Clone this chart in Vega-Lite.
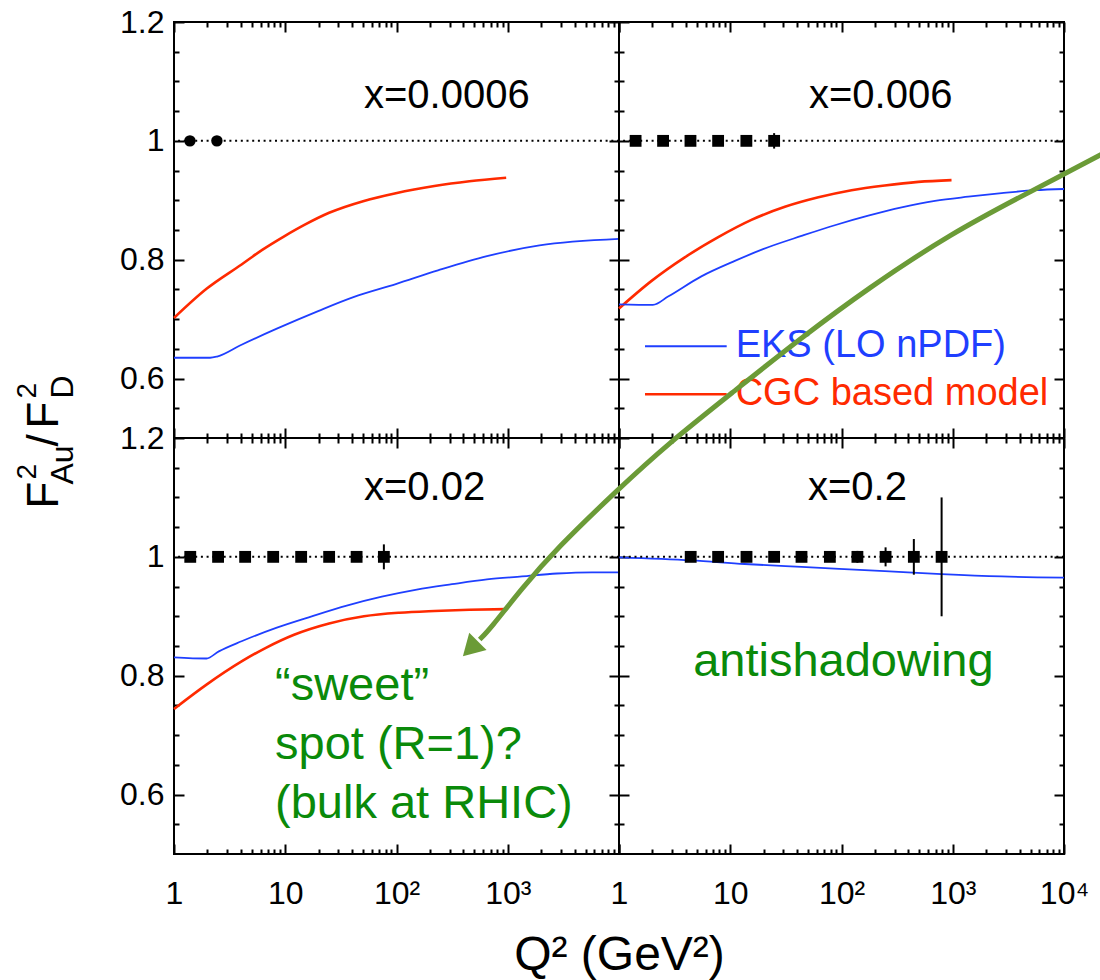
{
  "$schema": "https://vega.github.io/schema/vega-lite/v6.json",
  "padding": {"left": 13, "top": 5, "right": 0, "bottom": 0},
  "background": "white",
  "config": {
    "font": "Liberation Sans",
    "view": {"stroke": "black", "strokeWidth": 2},
    "axis": {"domain": false, "grid": false, "ticks": true, "tickColor": "black", "tickWidth": 2, "labelColor": "black", "labelFont": "Liberation Sans", "labelFontSize": 32, "labelFlush": false, "labelOverlap": false, "titleFont": "Liberation Sans", "titleFontWeight": "normal", "titleColor": "black"},
    "text": {"font": "Liberation Sans"}
  },
  "datasets": {
    "curves": [
      {"panel": "a", "model": "CGC", "q": 1, "r": 0.702}, {"panel": "a", "model": "CGC", "q": 1.96, "r": 0.751}, {"panel": "a", "model": "CGC", "q": 4.05, "r": 0.792}, {"panel": "a", "model": "CGC", "q": 6.26, "r": 0.817}, {"panel": "a", "model": "CGC", "q": 9.7, "r": 0.839}, {"panel": "a", "model": "CGC", "q": 15, "r": 0.859}, {"panel": "a", "model": "CGC", "q": 24.8, "r": 0.879}, {"panel": "a", "model": "CGC", "q": 51, "r": 0.899}, {"panel": "a", "model": "CGC", "q": 98.6, "r": 0.912}, {"panel": "a", "model": "CGC", "q": 219, "r": 0.924}, {"panel": "a", "model": "CGC", "q": 452, "r": 0.932}, {"panel": "a", "model": "CGC", "q": 968, "r": 0.938},
      {"panel": "a", "model": "EKS", "q": 1, "r": 0.635}, {"panel": "a", "model": "EKS", "q": 2.11, "r": 0.635}, {"panel": "a", "model": "EKS", "q": 2.44, "r": 0.637}, {"panel": "a", "model": "EKS", "q": 4.05, "r": 0.657}, {"panel": "a", "model": "EKS", "q": 8.4, "r": 0.684}, {"panel": "a", "model": "EKS", "q": 20, "r": 0.714}, {"panel": "a", "model": "EKS", "q": 41, "r": 0.737}, {"panel": "a", "model": "EKS", "q": 98.6, "r": 0.759}, {"panel": "a", "model": "EKS", "q": 236, "r": 0.782}, {"panel": "a", "model": "EKS", "q": 650, "r": 0.806}, {"panel": "a", "model": "EKS", "q": 1928, "r": 0.824}, {"panel": "a", "model": "EKS", "q": 10000, "r": 0.835},
      {"panel": "b", "model": "CGC", "q": 1, "r": 0.718}, {"panel": "b", "model": "CGC", "q": 1.95, "r": 0.764}, {"panel": "b", "model": "CGC", "q": 3.9, "r": 0.804}, {"panel": "b", "model": "CGC", "q": 7.8, "r": 0.838}, {"panel": "b", "model": "CGC", "q": 15.5, "r": 0.867}, {"panel": "b", "model": "CGC", "q": 31, "r": 0.889}, {"panel": "b", "model": "CGC", "q": 62, "r": 0.905}, {"panel": "b", "model": "CGC", "q": 123, "r": 0.917}, {"panel": "b", "model": "CGC", "q": 245, "r": 0.925}, {"panel": "b", "model": "CGC", "q": 490, "r": 0.931}, {"panel": "b", "model": "CGC", "q": 975, "r": 0.934},
      {"panel": "b", "model": "EKS", "q": 1, "r": 0.725}, {"panel": "b", "model": "EKS", "q": 2.02, "r": 0.724}, {"panel": "b", "model": "EKS", "q": 2.76, "r": 0.738}, {"panel": "b", "model": "EKS", "q": 5.5, "r": 0.772}, {"panel": "b", "model": "EKS", "q": 11, "r": 0.798}, {"panel": "b", "model": "EKS", "q": 21.9, "r": 0.821}, {"panel": "b", "model": "EKS", "q": 43.7, "r": 0.84}, {"panel": "b", "model": "EKS", "q": 87, "r": 0.858}, {"panel": "b", "model": "EKS", "q": 174, "r": 0.874}, {"panel": "b", "model": "EKS", "q": 347, "r": 0.888}, {"panel": "b", "model": "EKS", "q": 692, "r": 0.899}, {"panel": "b", "model": "EKS", "q": 1380, "r": 0.906}, {"panel": "b", "model": "EKS", "q": 2750, "r": 0.912}, {"panel": "b", "model": "EKS", "q": 5500, "r": 0.917}, {"panel": "b", "model": "EKS", "q": 10000, "r": 0.919},
      {"panel": "c", "model": "EKS", "q": 1, "r": 0.831}, {"panel": "c", "model": "EKS", "q": 1.96, "r": 0.829}, {"panel": "c", "model": "EKS", "q": 2.53, "r": 0.841}, {"panel": "c", "model": "EKS", "q": 4.05, "r": 0.858}, {"panel": "c", "model": "EKS", "q": 8.4, "r": 0.881}, {"panel": "c", "model": "EKS", "q": 17.3, "r": 0.9}, {"panel": "c", "model": "EKS", "q": 35.7, "r": 0.918}, {"panel": "c", "model": "EKS", "q": 73.8, "r": 0.933}, {"panel": "c", "model": "EKS", "q": 152, "r": 0.945}, {"panel": "c", "model": "EKS", "q": 315, "r": 0.954}, {"panel": "c", "model": "EKS", "q": 650, "r": 0.962}, {"panel": "c", "model": "EKS", "q": 1342, "r": 0.967}, {"panel": "c", "model": "EKS", "q": 2770, "r": 0.972}, {"panel": "c", "model": "EKS", "q": 5720, "r": 0.974}, {"panel": "c", "model": "EKS", "q": 10000, "r": 0.974},
      {"panel": "c", "model": "CGC", "q": 1, "r": 0.744}, {"panel": "c", "model": "CGC", "q": 1.96, "r": 0.785}, {"panel": "c", "model": "CGC", "q": 4.05, "r": 0.824}, {"panel": "c", "model": "CGC", "q": 6.7, "r": 0.847}, {"panel": "c", "model": "CGC", "q": 12, "r": 0.869}, {"panel": "c", "model": "CGC", "q": 24.8, "r": 0.888}, {"panel": "c", "model": "CGC", "q": 51, "r": 0.9}, {"panel": "c", "model": "CGC", "q": 106, "r": 0.906}, {"panel": "c", "model": "CGC", "q": 219, "r": 0.909}, {"panel": "c", "model": "CGC", "q": 452, "r": 0.911}, {"panel": "c", "model": "CGC", "q": 968, "r": 0.912},
      {"panel": "d", "model": "EKS", "q": 1, "r": 0.999}, {"panel": "d", "model": "EKS", "q": 4.47, "r": 0.994}, {"panel": "d", "model": "EKS", "q": 13.5, "r": 0.988}, {"panel": "d", "model": "EKS", "q": 43.7, "r": 0.983}, {"panel": "d", "model": "EKS", "q": 245, "r": 0.976}, {"panel": "d", "model": "EKS", "q": 794, "r": 0.971}, {"panel": "d", "model": "EKS", "q": 2750, "r": 0.967}, {"panel": "d", "model": "EKS", "q": 10000, "r": 0.965}
    ],
    "points": [
      {"panel": "a", "q": 1.39, "r": 1}, {"panel": "a", "q": 2.43, "r": 1},
      {"panel": "b", "q": 1.41, "r": 1}, {"panel": "b", "q": 2.49, "r": 1}, {"panel": "b", "q": 4.39, "r": 1}, {"panel": "b", "q": 7.78, "r": 1}, {"panel": "b", "q": 13.96, "r": 1}, {"panel": "b", "q": 24.8, "r": 1, "lo": 0.987, "hi": 1.013},
      {"panel": "c", "q": 1.4, "r": 1}, {"panel": "c", "q": 2.49, "r": 1}, {"panel": "c", "q": 4.36, "r": 1}, {"panel": "c", "q": 7.79, "r": 1}, {"panel": "c", "q": 13.9, "r": 1}, {"panel": "c", "q": 24.8, "r": 1}, {"panel": "c", "q": 43.8, "r": 1}, {"panel": "c", "q": 77, "r": 1, "lo": 0.979, "hi": 1.021},
      {"panel": "d", "q": 4.41, "r": 1}, {"panel": "d", "q": 7.78, "r": 1}, {"panel": "d", "q": 14, "r": 1}, {"panel": "d", "q": 24.8, "r": 1}, {"panel": "d", "q": 43.7, "r": 1}, {"panel": "d", "q": 78.6, "r": 1}, {"panel": "d", "q": 139, "r": 1, "lo": 0.99, "hi": 1.01}, {"panel": "d", "q": 249, "r": 1, "lo": 0.984, "hi": 1.016}, {"panel": "d", "q": 447, "r": 1, "lo": 0.97, "hi": 1.03}, {"panel": "d", "q": 794, "r": 1, "lo": 0.9, "hi": 1.1}
    ],
    "arrow": [
      {"q": 26300, "v": 1.6854}, {"q": 9935, "v": 1.6439}, {"q": 5020, "v": 1.6148}, {"q": 959, "v": 1.5441}, {"q": 172, "v": 1.4516}, {"q": 43, "v": 1.368}, {"q": 10.74, "v": 1.2782}, {"q": 2.74, "v": 1.19}, {"q": 0.973, "v": 1.113}, {"q": 0.2754, "v": 1.0141}, {"q": 0.1335, "v": 0.9468}, {"q": 0.0688, "v": 0.8778}, {"q": 0.056, "v": 0.861}
    ]
  },
  "spacing": 0,
  "bounds": "flush",
  "columns": 2,
  "concat": [
        {
          "width": 445, "height": 416,
          "resolve": {"axis": {"x": "independent", "y": "independent"}},
          "layer": [
            {"data": {"name": "curves"}, "transform": [{"filter": "datum.panel == 'a' && datum.model == 'CGC'"}], "mark": {"type": "line", "color": "#ff2a00", "strokeWidth": 2.6, "interpolate": "monotone"},
             "encoding": {"x": {"field": "q", "type": "quantitative", "scale": {"type": "log", "domain": [1, 10000], "nice": false}, "axis": {"orient": "bottom", "values": [1, 10, 100, 1000, 10000], "offset": -10, "tickSize": 10, "labels": false, "title": null}},
                          "y": {"field": "r", "type": "quantitative", "scale": {"domain": [0.5, 1.2], "nice": false, "zero": false}, "axis": {"orient": "left", "values": [0.6, 0.8, 1, 1.2], "offset": -10, "tickSize": 10, "labelPadding": 10, "format": "~g", "title": null}}}},
            {"data": {"name": "curves"}, "transform": [{"filter": "datum.panel == 'a' && datum.model == 'EKS'"}], "mark": {"type": "line", "color": "#1f3fff", "strokeWidth": 1.8, "interpolate": "monotone"},
             "encoding": {"x": {"field": "q", "type": "quantitative", "scale": {"type": "log", "domain": [1, 10000], "nice": false}, "axis": {"orient": "top", "values": [1, 10, 100, 1000, 10000], "offset": -10, "tickSize": 10, "labels": false, "title": null}},
                          "y": {"field": "r", "type": "quantitative", "scale": {"domain": [0.5, 1.2], "nice": false, "zero": false}, "axis": {"orient": "right", "values": [0.6, 0.8, 1, 1.2], "offset": -10, "tickSize": 10, "labels": false, "title": null}}}},
            {"data": {"name": "points"}, "transform": [{"filter": "datum.panel == 'a'"}], "mark": {"type": "circle", "size": 130, "color": "black", "opacity": 1},
             "encoding": {"x": {"field": "q", "type": "quantitative", "scale": {"type": "log", "domain": [1, 10000], "nice": false}, "axis": {"orient": "bottom", "values": [2, 3, 4, 5, 6, 7, 8, 9, 20, 30, 40, 50, 60, 70, 80, 90, 200, 300, 400, 500, 600, 700, 800, 900, 2000, 3000, 4000, 5000, 6000, 7000, 8000, 9000], "offset": -5, "tickSize": 5, "labels": false, "title": null}},
                          "y": {"field": "r", "type": "quantitative", "scale": {"domain": [0.5, 1.2], "nice": false, "zero": false}, "axis": {"orient": "left", "values": [0.55, 0.65, 0.7, 0.75, 0.85, 0.9, 0.95, 1.05, 1.1, 1.15], "offset": -5, "tickSize": 5, "labels": false, "title": null}}}},
            {"data": {"name": "points"}, "transform": [{"filter": "datum.panel == 'a'"}], "mark": {"type": "rule", "strokeWidth": 2, "color": "black"},
             "encoding": {"x": {"field": "q", "type": "quantitative", "scale": {"type": "log", "domain": [1, 10000], "nice": false}, "axis": {"orient": "top", "values": [2, 3, 4, 5, 6, 7, 8, 9, 20, 30, 40, 50, 60, 70, 80, 90, 200, 300, 400, 500, 600, 700, 800, 900, 2000, 3000, 4000, 5000, 6000, 7000, 8000, 9000], "offset": -5, "tickSize": 5, "labels": false, "title": null}},
                          "y": {"field": "r", "type": "quantitative", "scale": {"domain": [0.5, 1.2], "nice": false, "zero": false}, "axis": {"orient": "right", "values": [0.55, 0.65, 0.7, 0.75, 0.85, 0.9, 0.95, 1.05, 1.1, 1.15], "offset": -5, "tickSize": 5, "labels": false, "title": null}},
                          "y2": {"field": "r"}}},
            {"data": {"values": [{}]}, "mark": {"type": "rule", "strokeDash": [2, 3.7], "strokeWidth": 2, "color": "black"}, "encoding": {"y": {"datum": 1, "type": "quantitative", "scale": {"domain": [0.5, 1.2], "nice": false, "zero": false}, "axis": null}}},
            {"data": {"values": [{}]}, "mark": {"type": "text", "text": "x=0.0006", "fontSize": 40, "align": "left", "baseline": "alphabetic", "color": "black"},
             "encoding": {"x": {"datum": 51, "type": "quantitative", "scale": {"type": "log", "domain": [1, 10000], "nice": false}, "axis": null}, "y": {"datum": 1.0553, "type": "quantitative", "scale": {"domain": [0.5, 1.2], "nice": false, "zero": false}, "axis": null}}}
          ]
        },
        {
          "width": 445, "height": 416,
          "resolve": {"axis": {"x": "independent", "y": "independent"}},
          "layer": [
            {"data": {"name": "curves"}, "transform": [{"filter": "datum.panel == 'b' && datum.model == 'CGC'"}], "mark": {"type": "line", "color": "#ff2a00", "strokeWidth": 2.6, "interpolate": "monotone"},
             "encoding": {"x": {"field": "q", "type": "quantitative", "scale": {"type": "log", "domain": [1, 10000], "nice": false}, "axis": {"orient": "bottom", "values": [1, 10, 100, 1000, 10000], "offset": -10, "tickSize": 10, "labels": false, "title": null}},
                          "y": {"field": "r", "type": "quantitative", "scale": {"domain": [0.5, 1.2], "nice": false, "zero": false}, "axis": {"orient": "left", "values": [0.6, 0.8, 1, 1.2], "offset": -10, "tickSize": 10, "labels": false, "title": null}}}},
            {"data": {"name": "curves"}, "transform": [{"filter": "datum.panel == 'b' && datum.model == 'EKS'"}], "mark": {"type": "line", "color": "#1f3fff", "strokeWidth": 1.8, "interpolate": "monotone"},
             "encoding": {"x": {"field": "q", "type": "quantitative", "scale": {"type": "log", "domain": [1, 10000], "nice": false}, "axis": {"orient": "top", "values": [1, 10, 100, 1000, 10000], "offset": -10, "tickSize": 10, "labels": false, "title": null}},
                          "y": {"field": "r", "type": "quantitative", "scale": {"domain": [0.5, 1.2], "nice": false, "zero": false}, "axis": {"orient": "right", "values": [0.6, 0.8, 1, 1.2], "offset": -10, "tickSize": 10, "labels": false, "title": null}}}},
            {"data": {"name": "points"}, "transform": [{"filter": "datum.panel == 'b'"}], "mark": {"type": "square", "size": 140, "color": "black", "opacity": 1},
             "encoding": {"x": {"field": "q", "type": "quantitative", "scale": {"type": "log", "domain": [1, 10000], "nice": false}, "axis": {"orient": "bottom", "values": [2, 3, 4, 5, 6, 7, 8, 9, 20, 30, 40, 50, 60, 70, 80, 90, 200, 300, 400, 500, 600, 700, 800, 900, 2000, 3000, 4000, 5000, 6000, 7000, 8000, 9000], "offset": -5, "tickSize": 5, "labels": false, "title": null}},
                          "y": {"field": "r", "type": "quantitative", "scale": {"domain": [0.5, 1.2], "nice": false, "zero": false}, "axis": {"orient": "left", "values": [0.55, 0.65, 0.7, 0.75, 0.85, 0.9, 0.95, 1.05, 1.1, 1.15], "offset": -5, "tickSize": 5, "labels": false, "title": null}}}},
            {"data": {"name": "points"}, "transform": [{"filter": "datum.panel == 'b' && isValid(datum.lo)"}], "mark": {"type": "rule", "strokeWidth": 2, "color": "black"},
             "encoding": {"x": {"field": "q", "type": "quantitative", "scale": {"type": "log", "domain": [1, 10000], "nice": false}, "axis": {"orient": "top", "values": [2, 3, 4, 5, 6, 7, 8, 9, 20, 30, 40, 50, 60, 70, 80, 90, 200, 300, 400, 500, 600, 700, 800, 900, 2000, 3000, 4000, 5000, 6000, 7000, 8000, 9000], "offset": -5, "tickSize": 5, "labels": false, "title": null}},
                          "y": {"field": "lo", "type": "quantitative", "scale": {"domain": [0.5, 1.2], "nice": false, "zero": false}, "axis": {"orient": "right", "values": [0.55, 0.65, 0.7, 0.75, 0.85, 0.9, 0.95, 1.05, 1.1, 1.15], "offset": -5, "tickSize": 5, "labels": false, "title": null}},
                          "y2": {"field": "hi"}}},
            {"data": {"values": [{}]}, "mark": {"type": "rule", "strokeDash": [2, 3.7], "strokeWidth": 2, "color": "black"}, "encoding": {"y": {"datum": 1, "type": "quantitative", "scale": {"domain": [0.5, 1.2], "nice": false, "zero": false}, "axis": null}}},
            {"data": {"values": [{}]}, "mark": {"type": "text", "text": "x=0.006", "fontSize": 40, "align": "left", "baseline": "alphabetic", "color": "black"},
             "encoding": {"x": {"datum": 51, "type": "quantitative", "scale": {"type": "log", "domain": [1, 10000], "nice": false}, "axis": null}, "y": {"datum": 1.0553, "type": "quantitative", "scale": {"domain": [0.5, 1.2], "nice": false, "zero": false}, "axis": null}}},
            {"data": {"values": [{}]}, "mark": {"type": "rule", "color": "#1f3fff", "strokeWidth": 2},
             "encoding": {"x": {"datum": 1.713, "type": "quantitative", "scale": {"type": "log", "domain": [1, 10000], "nice": false}, "axis": null}, "x2": {"datum": 9.29}, "y": {"datum": 0.6543, "type": "quantitative", "scale": {"domain": [0.5, 1.2], "nice": false, "zero": false}, "axis": null}}},
            {"data": {"values": [{}]}, "mark": {"type": "text", "text": "EKS (LO nPDF)", "fontSize": 38, "align": "left", "baseline": "middle", "color": "#1f3fff"},
             "encoding": {"x": {"datum": 11.19, "type": "quantitative", "scale": {"type": "log", "domain": [1, 10000], "nice": false}, "axis": null}, "y": {"datum": 0.6543, "type": "quantitative", "scale": {"domain": [0.5, 1.2], "nice": false, "zero": false}, "axis": null}}},
            {"data": {"values": [{}]}, "mark": {"type": "rule", "color": "#ff2a00", "strokeWidth": 2.6},
             "encoding": {"x": {"datum": 1.713, "type": "quantitative", "scale": {"type": "log", "domain": [1, 10000], "nice": false}, "axis": null}, "x2": {"datum": 9.29}, "y": {"datum": 0.5735, "type": "quantitative", "scale": {"domain": [0.5, 1.2], "nice": false, "zero": false}, "axis": null}}},
            {"data": {"values": [{}]}, "mark": {"type": "text", "text": "CGC based model", "fontSize": 38, "align": "left", "baseline": "middle", "color": "#ff2a00"},
             "encoding": {"x": {"datum": 11.19, "type": "quantitative", "scale": {"type": "log", "domain": [1, 10000], "nice": false}, "axis": null}, "y": {"datum": 0.5735, "type": "quantitative", "scale": {"domain": [0.5, 1.2], "nice": false, "zero": false}, "axis": null}}}
          ]
        },
        {
          "width": 445, "height": 416,
          "resolve": {"axis": {"x": "independent", "y": "independent"}},
          "layer": [
            {"data": {"name": "curves"}, "transform": [{"filter": "datum.panel == 'c' && datum.model == 'CGC'"}], "mark": {"type": "line", "color": "#ff2a00", "strokeWidth": 2.6, "interpolate": "monotone"},
             "encoding": {"x": {"field": "q", "type": "quantitative", "scale": {"type": "log", "domain": [1, 10000], "nice": false}, "axis": {"orient": "bottom", "values": [1, 10, 100, 1000, 10000], "offset": -10, "tickSize": 10, "labelPadding": 24, "labelExpr": "datum.value == 1 ? '1' : datum.value == 10 ? '10' : datum.value == 100 ? '10²' : datum.value == 1000 ? '10³' : ''", "title": "Q² (GeV²)", "titleFontSize": 48, "titleX": 445, "titleY": 125, "titleAlign": "center", "titleBaseline": "alphabetic"}},
                          "y": {"field": "r", "type": "quantitative", "scale": {"domain": [0.5, 1.2], "nice": false, "zero": false}, "axis": {"orient": "left", "values": [0.6, 0.8, 1, 1.2], "offset": -10, "tickSize": 10, "labelPadding": 10, "format": "~g", "title": null}}}},
            {"data": {"name": "curves"}, "transform": [{"filter": "datum.panel == 'c' && datum.model == 'EKS'"}], "mark": {"type": "line", "color": "#1f3fff", "strokeWidth": 1.8, "interpolate": "monotone"},
             "encoding": {"x": {"field": "q", "type": "quantitative", "scale": {"type": "log", "domain": [1, 10000], "nice": false}, "axis": {"orient": "top", "values": [1, 10, 100, 1000, 10000], "offset": -10, "tickSize": 10, "labels": false, "title": null}},
                          "y": {"field": "r", "type": "quantitative", "scale": {"domain": [0.5, 1.2], "nice": false, "zero": false}, "axis": {"orient": "right", "values": [0.6, 0.8, 1, 1.2], "offset": -10, "tickSize": 10, "labels": false, "title": null}}}},
            {"data": {"name": "points"}, "transform": [{"filter": "datum.panel == 'c'"}], "mark": {"type": "square", "size": 140, "color": "black", "opacity": 1},
             "encoding": {"x": {"field": "q", "type": "quantitative", "scale": {"type": "log", "domain": [1, 10000], "nice": false}, "axis": {"orient": "bottom", "values": [2, 3, 4, 5, 6, 7, 8, 9, 20, 30, 40, 50, 60, 70, 80, 90, 200, 300, 400, 500, 600, 700, 800, 900, 2000, 3000, 4000, 5000, 6000, 7000, 8000, 9000], "offset": -5, "tickSize": 5, "labels": false, "title": null}},
                          "y": {"field": "r", "type": "quantitative", "scale": {"domain": [0.5, 1.2], "nice": false, "zero": false}, "axis": {"orient": "left", "values": [0.55, 0.65, 0.7, 0.75, 0.85, 0.9, 0.95, 1.05, 1.1, 1.15], "offset": -5, "tickSize": 5, "labels": false, "title": null}}}},
            {"data": {"name": "points"}, "transform": [{"filter": "datum.panel == 'c' && isValid(datum.lo)"}], "mark": {"type": "rule", "strokeWidth": 2, "color": "black"},
             "encoding": {"x": {"field": "q", "type": "quantitative", "scale": {"type": "log", "domain": [1, 10000], "nice": false}, "axis": {"orient": "top", "values": [2, 3, 4, 5, 6, 7, 8, 9, 20, 30, 40, 50, 60, 70, 80, 90, 200, 300, 400, 500, 600, 700, 800, 900, 2000, 3000, 4000, 5000, 6000, 7000, 8000, 9000], "offset": -5, "tickSize": 5, "labels": false, "title": null}},
                          "y": {"field": "lo", "type": "quantitative", "scale": {"domain": [0.5, 1.2], "nice": false, "zero": false}, "axis": {"orient": "right", "values": [0.55, 0.65, 0.7, 0.75, 0.85, 0.9, 0.95, 1.05, 1.1, 1.15], "offset": -5, "tickSize": 5, "labels": false, "title": null}},
                          "y2": {"field": "hi"}}},
            {"data": {"values": [{}]}, "mark": {"type": "rule", "strokeDash": [2, 3.7], "strokeWidth": 2, "color": "black"}, "encoding": {"y": {"datum": 1, "type": "quantitative", "scale": {"domain": [0.5, 1.2], "nice": false, "zero": false}, "axis": null}}},
            {"data": {"values": [{}]}, "mark": {"type": "text", "text": "x=0.02", "fontSize": 40, "align": "left", "baseline": "alphabetic", "color": "black"},
             "encoding": {"x": {"datum": 51, "type": "quantitative", "scale": {"type": "log", "domain": [1, 10000], "nice": false}, "axis": null}, "y": {"datum": 1.096, "type": "quantitative", "scale": {"domain": [0.5, 1.2], "nice": false, "zero": false}, "axis": null}}},
            {"data": {"values": [{}]}, "mark": {"type": "text", "text": ["“sweet”", "spot (R=1)?", "(bulk at RHIC)"], "lineHeight": 59, "fontSize": 47, "align": "left", "baseline": "alphabetic", "color": "#0a8a0a"},
             "encoding": {"x": {"datum": 8.09, "type": "quantitative", "scale": {"type": "log", "domain": [1, 10000], "nice": false}, "axis": null}, "y": {"datum": 0.7583, "type": "quantitative", "scale": {"domain": [0.5, 1.2], "nice": false, "zero": false}, "axis": null}}},
            {"data": {"values": [{}]}, "mark": {"type": "text", "text": "F", "fontSize": 44, "angle": 270, "align": "left", "baseline": "alphabetic", "dx": 0, "dy": 0, "color": "black"},
             "encoding": {"x": {"datum": 0.0914, "type": "quantitative", "scale": {"type": "log", "domain": [1, 10000], "nice": false}, "axis": null}, "y": {"datum": 1.0814, "type": "quantitative", "scale": {"domain": [0.5, 1.2], "nice": false, "zero": false}, "axis": null}}},
            {"data": {"values": [{}]}, "mark": {"type": "text", "text": "2", "fontSize": 28, "angle": 270, "align": "left", "baseline": "alphabetic", "dx": 29, "dy": -22, "color": "black"},
             "encoding": {"x": {"datum": 0.0914, "type": "quantitative", "scale": {"type": "log", "domain": [1, 10000], "nice": false}, "axis": null}, "y": {"datum": 1.0814, "type": "quantitative", "scale": {"domain": [0.5, 1.2], "nice": false, "zero": false}, "axis": null}}},
            {"data": {"values": [{}]}, "mark": {"type": "text", "text": "Au", "fontSize": 32, "angle": 270, "align": "left", "baseline": "alphabetic", "dx": 24, "dy": 15, "color": "black"},
             "encoding": {"x": {"datum": 0.0914, "type": "quantitative", "scale": {"type": "log", "domain": [1, 10000], "nice": false}, "axis": null}, "y": {"datum": 1.0814, "type": "quantitative", "scale": {"domain": [0.5, 1.2], "nice": false, "zero": false}, "axis": null}}},
            {"data": {"values": [{}]}, "mark": {"type": "text", "text": "/", "fontSize": 44, "angle": 270, "align": "left", "baseline": "alphabetic", "dx": 62, "dy": 0, "color": "black"},
             "encoding": {"x": {"datum": 0.0914, "type": "quantitative", "scale": {"type": "log", "domain": [1, 10000], "nice": false}, "axis": null}, "y": {"datum": 1.0814, "type": "quantitative", "scale": {"domain": [0.5, 1.2], "nice": false, "zero": false}, "axis": null}}},
            {"data": {"values": [{}]}, "mark": {"type": "text", "text": "F", "fontSize": 44, "angle": 270, "align": "left", "baseline": "alphabetic", "dx": 80, "dy": 0, "color": "black"},
             "encoding": {"x": {"datum": 0.0914, "type": "quantitative", "scale": {"type": "log", "domain": [1, 10000], "nice": false}, "axis": null}, "y": {"datum": 1.0814, "type": "quantitative", "scale": {"domain": [0.5, 1.2], "nice": false, "zero": false}, "axis": null}}},
            {"data": {"values": [{}]}, "mark": {"type": "text", "text": "2", "fontSize": 28, "angle": 270, "align": "left", "baseline": "alphabetic", "dx": 110, "dy": -22, "color": "black"},
             "encoding": {"x": {"datum": 0.0914, "type": "quantitative", "scale": {"type": "log", "domain": [1, 10000], "nice": false}, "axis": null}, "y": {"datum": 1.0814, "type": "quantitative", "scale": {"domain": [0.5, 1.2], "nice": false, "zero": false}, "axis": null}}},
            {"data": {"values": [{}]}, "mark": {"type": "text", "text": "D", "fontSize": 32, "angle": 270, "align": "left", "baseline": "alphabetic", "dx": 110, "dy": 15, "color": "black"},
             "encoding": {"x": {"datum": 0.0914, "type": "quantitative", "scale": {"type": "log", "domain": [1, 10000], "nice": false}, "axis": null}, "y": {"datum": 1.0814, "type": "quantitative", "scale": {"domain": [0.5, 1.2], "nice": false, "zero": false}, "axis": null}}}
          ]
        },
        {
          "width": 445, "height": 416,
          "resolve": {"axis": {"x": "independent", "y": "independent"}},
          "layer": [
            {"data": {"name": "curves"}, "transform": [{"filter": "datum.panel == 'd'"}], "mark": {"type": "line", "color": "#1f3fff", "strokeWidth": 1.8, "interpolate": "monotone"},
             "encoding": {"x": {"field": "q", "type": "quantitative", "scale": {"type": "log", "domain": [1, 10000], "nice": false}, "axis": {"orient": "bottom", "values": [1, 10, 100, 1000, 10000], "offset": -10, "tickSize": 10, "labelPadding": 24, "labelExpr": "datum.value == 1 ? '1' : datum.value == 10 ? '10' : datum.value == 100 ? '10²' : datum.value == 1000 ? '10³' : datum.value == 10000 ? '10⁴' : ''", "title": null}},
                          "y": {"field": "r", "type": "quantitative", "scale": {"domain": [0.5, 1.2], "nice": false, "zero": false}, "axis": {"orient": "left", "values": [0.6, 0.8, 1, 1.2], "offset": -10, "tickSize": 10, "labels": false, "title": null}}}},
            {"data": {"name": "points"}, "transform": [{"filter": "datum.panel == 'd'"}], "mark": {"type": "square", "size": 140, "color": "black", "opacity": 1},
             "encoding": {"x": {"field": "q", "type": "quantitative", "scale": {"type": "log", "domain": [1, 10000], "nice": false}, "axis": {"orient": "top", "values": [1, 10, 100, 1000, 10000], "offset": -10, "tickSize": 10, "labels": false, "title": null}},
                          "y": {"field": "r", "type": "quantitative", "scale": {"domain": [0.5, 1.2], "nice": false, "zero": false}, "axis": {"orient": "right", "values": [0.6, 0.8, 1, 1.2], "offset": -10, "tickSize": 10, "labels": false, "title": null}}}},
            {"data": {"name": "points"}, "transform": [{"filter": "datum.panel == 'd' && isValid(datum.lo)"}], "mark": {"type": "rule", "strokeWidth": 2, "color": "black"},
             "encoding": {"x": {"field": "q", "type": "quantitative", "scale": {"type": "log", "domain": [1, 10000], "nice": false}, "axis": {"orient": "bottom", "values": [2, 3, 4, 5, 6, 7, 8, 9, 20, 30, 40, 50, 60, 70, 80, 90, 200, 300, 400, 500, 600, 700, 800, 900, 2000, 3000, 4000, 5000, 6000, 7000, 8000, 9000], "offset": -5, "tickSize": 5, "labels": false, "title": null}},
                          "y": {"field": "lo", "type": "quantitative", "scale": {"domain": [0.5, 1.2], "nice": false, "zero": false}, "axis": {"orient": "left", "values": [0.55, 0.65, 0.7, 0.75, 0.85, 0.9, 0.95, 1.05, 1.1, 1.15], "offset": -5, "tickSize": 5, "labels": false, "title": null}},
                          "y2": {"field": "hi"}}},
            {"data": {"name": "arrow"}, "mark": {"type": "line", "color": "#6b9b37", "strokeWidth": 5, "interpolate": "basis", "clip": false},
             "encoding": {"x": {"field": "q", "type": "quantitative", "scale": {"type": "log", "domain": [1, 10000], "nice": false}, "axis": {"orient": "top", "values": [2, 3, 4, 5, 6, 7, 8, 9, 20, 30, 40, 50, 60, 70, 80, 90, 200, 300, 400, 500, 600, 700, 800, 900, 2000, 3000, 4000, 5000, 6000, 7000, 8000, 9000], "offset": -5, "tickSize": 5, "labels": false, "title": null}},
                          "y": {"field": "v", "type": "quantitative", "scale": {"domain": [0.5, 1.2], "nice": false, "zero": false}, "axis": {"orient": "right", "values": [0.55, 0.65, 0.7, 0.75, 0.85, 0.9, 0.95, 1.05, 1.1, 1.15], "offset": -5, "tickSize": 5, "labels": false, "title": null}}}},
            {"data": {"values": [{}]}, "mark": {"type": "rule", "strokeDash": [2, 3.7], "strokeWidth": 2, "color": "black"}, "encoding": {"y": {"datum": 1, "type": "quantitative", "scale": {"domain": [0.5, 1.2], "nice": false, "zero": false}, "axis": null}}},
            {"data": {"values": [{}]}, "mark": {"type": "text", "text": "x=0.2", "fontSize": 40, "align": "left", "baseline": "alphabetic", "color": "black"},
             "encoding": {"x": {"datum": 50, "type": "quantitative", "scale": {"type": "log", "domain": [1, 10000], "nice": false}, "axis": null}, "y": {"datum": 1.096, "type": "quantitative", "scale": {"domain": [0.5, 1.2], "nice": false, "zero": false}, "axis": null}}},
            {"data": {"values": [{}]}, "mark": {"type": "text", "text": "antishadowing", "fontSize": 47, "align": "center", "baseline": "alphabetic", "color": "#0a8a0a"},
             "encoding": {"x": {"datum": 104, "type": "quantitative", "scale": {"type": "log", "domain": [1, 10000], "nice": false}, "axis": null}, "y": {"datum": 0.8, "type": "quantitative", "scale": {"domain": [0.5, 1.2], "nice": false, "zero": false}, "axis": null}}},
            {"data": {"values": [{}]}, "mark": {"type": "point", "shape": "triangle", "size": 600, "filled": true, "color": "#6b9b37", "opacity": 1, "angle": 225},
             "encoding": {"x": {"datum": 0.0486, "type": "quantitative", "scale": {"type": "log", "domain": [1, 10000], "nice": false}, "axis": null}, "y": {"datum": 0.8495, "type": "quantitative", "scale": {"domain": [0.5, 1.2], "nice": false, "zero": false}, "axis": null}}}
          ]
        }
  ]
}
